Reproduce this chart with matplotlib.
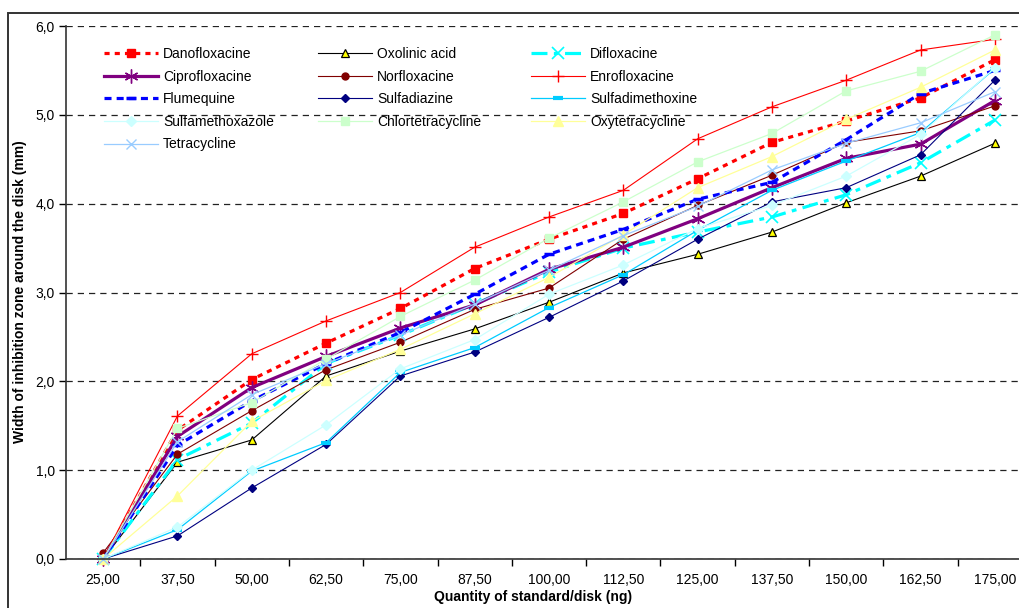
import matplotlib
matplotlib.use("Agg")
from matplotlib import pyplot as plt
from matplotlib.patches import Rectangle

plt.rcParams['font.family'] = ['Liberation Sans', 'DejaVu Sans']

# quantity of standard per disk (ng)
quantity = [25, 37.5, 50, 62.5, 75, 87.5, 100, 112.5, 125, 137.5, 150, 162.5, 175]

# width of inhibition zone (mm)
danofloxacine = [0.0, 1.45, 2.02, 2.43, 2.82, 3.27, 3.60, 3.89, 4.28, 4.69, 4.93, 5.19, 5.62]
oxolinic_acid = [0.0, 1.09, 1.34, 2.06, 2.34, 2.59, 2.89, 3.22, 3.43, 3.68, 4.01, 4.31, 4.68]
difloxacine = [0.0, 1.12, 1.53, 2.20, 2.52, 2.87, 3.23, 3.50, 3.68, 3.85, 4.10, 4.46, 4.94]
ciprofloxacine = [0.0, 1.38, 1.93, 2.28, 2.60, 2.86, 3.26, 3.51, 3.83, 4.18, 4.51, 4.67, 5.16]
norfloxacine = [0.07, 1.18, 1.67, 2.13, 2.44, 2.81, 3.05, 3.60, 3.98, 4.32, 4.69, 4.82, 5.10]
enrofloxacine = [0.0, 1.61, 2.31, 2.68, 3.00, 3.51, 3.85, 4.15, 4.73, 5.09, 5.39, 5.73, 5.85]
flumequine = [0.0, 1.28, 1.78, 2.20, 2.55, 2.98, 3.43, 3.71, 4.05, 4.24, 4.72, 5.24, 5.50]
sulfadiazine = [0.0, 0.26, 0.80, 1.29, 2.06, 2.33, 2.72, 3.13, 3.60, 4.02, 4.18, 4.55, 5.39]
sulfadimethoxine = [0.0, 0.33, 0.99, 1.31, 2.10, 2.38, 2.83, 3.20, 3.70, 4.15, 4.48, 4.80, 5.52]
sulfamethoxazole = [0.0, 0.36, 1.00, 1.51, 2.14, 2.47, 2.98, 3.31, 3.72, 3.98, 4.31, 4.78, 5.53]
chlortetracycline = [0.0, 1.47, 1.76, 2.25, 2.73, 3.14, 3.61, 4.02, 4.47, 4.79, 5.27, 5.49, 5.90]
oxytetracycline = [0.0, 0.71, 1.55, 2.01, 2.36, 2.76, 3.17, 3.65, 4.18, 4.53, 4.95, 5.31, 5.73]
tetracycline = [0.0, 1.32, 1.85, 2.20, 2.52, 2.87, 3.25, 3.64, 3.97, 4.38, 4.68, 4.91, 5.26]

# name, values, style (legend is filled row by row, 3 columns)
series = [
    ("Danofloxacine", danofloxacine,
     dict(color='#FF0000', lw=2.3, ls=(0, (1.6, 1.6)), marker='s', ms=5.5, mfc='#FF0000', mec='#FF0000')),
    ("Oxolinic acid", oxolinic_acid,
     dict(color='#000000', lw=0.8, marker='^', ms=6, mfc='#FFFF00', mec='#000000', mew=0.9)),
    ("Difloxacine", difloxacine,
     dict(color='#00FFFF', lw=2.3, ls=(0, (5, 2, 1.5, 2)), marker='x', ms=9, mec='#00FFFF', mew=1.2)),
    ("Ciprofloxacine", ciprofloxacine,
     dict(color='#800080', lw=2.3, marker=(6, 2, 0), ms=10, mec='#800080', mew=1.0)),
    ("Norfloxacine", norfloxacine,
     dict(color='#800000', lw=0.8, marker='o', ms=5, mfc='#800000', mec='#800000')),
    ("Enrofloxacine", enrofloxacine,
     dict(color='#FF0000', lw=0.8, marker='+', ms=8, mec='#FF0000', mew=1.0)),
    ("Flumequine", flumequine,
     dict(color='#0000FF', lw=2.3, ls=(0, (2.2, 1.6)), marker='_', ms=7, mec='#0000FF', mew=2.5)),
    ("Sulfadiazine", sulfadiazine,
     dict(color='#000080', lw=0.8, marker='D', ms=4.5, mfc='#000080', mec='#000080')),
    ("Sulfadimethoxine", sulfadimethoxine,
     dict(color='#00CCFF', lw=0.9, marker='_', ms=7, mec='#00CCFF', mew=3)),
    ("Sulfamethoxazole", sulfamethoxazole,
     dict(color='#CCFFFF', lw=0.9, marker='D', ms=5, mfc='#CCFFFF', mec='#CCFFFF')),
    ("Chlortetracycline", chlortetracycline,
     dict(color='#CCFFCC', lw=0.9, marker='s', ms=6, mfc='#CCFFCC', mec='#CCFFCC')),
    ("Oxytetracycline", oxytetracycline,
     dict(color='#FFFF99', lw=0.9, marker='^', ms=7, mfc='#FFFF99', mec='#FFFF99')),
    ("Tetracycline", tetracycline,
     dict(color='#99CCFF', lw=0.9, marker='x', ms=7, mec='#99CCFF', mew=1.0)),
]

fig = plt.figure(figsize=(10.2, 6.08), dpi=100)
ax = fig.add_axes([66 / 1020, 49 / 608, 966 / 1020, 533 / 608])

pos = list(range(len(quantity)))
handles = []
for name, values, style in series:
    h, = ax.plot(pos, values, label=name, clip_on=False, **style)
    handles.append(h)

ax.set_xlim(-0.5, len(quantity) - 0.5)
ax.set_ylim(0, 6)
ax.set_yticks([0, 1, 2, 3, 4, 5, 6])
ax.set_yticklabels([f"{v:.1f}".replace('.', ',') for v in range(7)])
ax.set_xticks(pos)
ax.set_xticklabels([f"{q:.2f}".replace('.', ',') for q in quantity])
ax.set_xticks([p + 0.5 for p in pos[:-1]], minor=True)
ax.tick_params(axis='x', which='major', length=0, pad=10, labelsize=10)
ax.tick_params(axis='x', which='minor', length=5, width=1, direction='out')
ax.tick_params(axis='y', length=5, width=1, direction='out', pad=3, labelsize=10)

ax.yaxis.grid(True, color='#222222', ls=(0, (5, 4)), lw=0.9)
ax.set_axisbelow(True)
for s in ['top', 'right']:
    ax.spines[s].set_visible(False)
for s in ['left', 'bottom']:
    ax.spines[s].set_linewidth(1.2)
    ax.spines[s].set_color('#333333')

fig.text(533 / 1020, 1 - 597 / 608, "Quantity of standard/disk (ng)",
         ha='center', va='center', fontsize=10, fontweight='bold')
fig.text(20 / 1020, (608 - 292) / 608, "Width of inhibition zone around the disk (mm)",
         rotation=90, ha='center', va='center', fontsize=10, fontweight='bold')

# legend, 3 columns placed separately
col_x = [104, 318, 531]
for c in range(3):
    hs = handles[c::3]
    leg = fig.legend(hs, [h.get_label() for h in hs], loc='upper left',
                     bbox_to_anchor=(col_x[c] / 1020, 1 - 47 / 608),
                     bbox_transform=fig.transFigure, frameon=False,
                     fontsize=10, handlelength=3.9, handletextpad=0.35,
                     labelspacing=0.62, borderpad=0, borderaxespad=0)

# outer chart border
fig.patches.append(Rectangle((8.5 / 1020, -0.2), 1.2, 1.2 - 13 / 608, transform=fig.transFigure,
                             fill=False, ec='#333333', lw=1.4))

fig.savefig("out.png", dpi=100)
